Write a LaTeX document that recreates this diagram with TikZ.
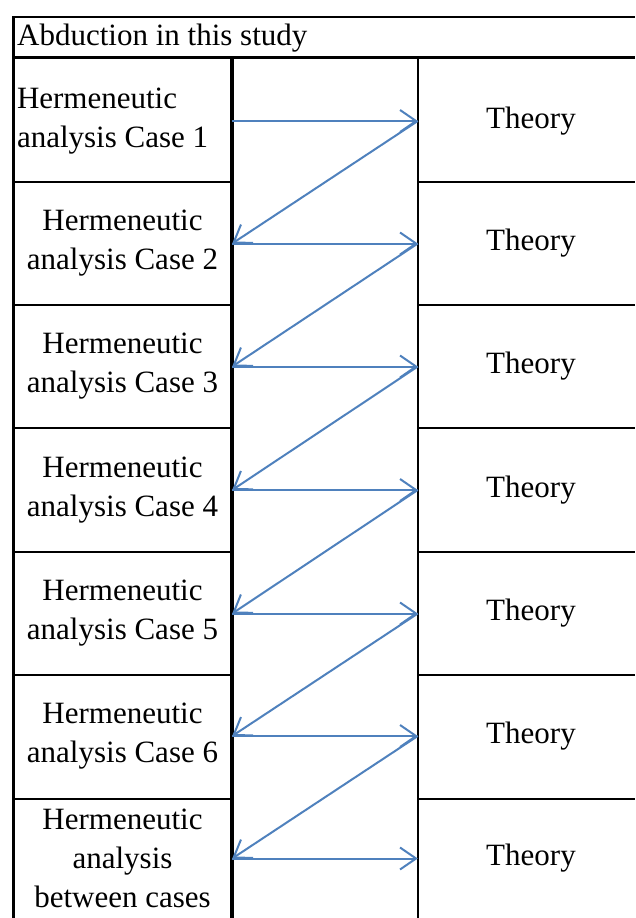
\documentclass[tikz,border=0pt]{standalone}
\usepackage{fontspec}
\setmainfont{Liberation Serif}
\usetikzlibrary{positioning, arrows.meta}
\definecolor{linkblue}{RGB}{79,129,189}

\begin{document}
\begin{tikzpicture}[x=1pt, y=-1pt, font=\rmfamily\fontsize{31}{39}\selectfont,
	casecell/.style={minimum width=219pt, minimum height=123pt, inner sep=0pt, align=flush center},
	theorycell/.style={minimum width=226pt, minimum height=123pt, inner sep=0pt},
	link/.style={linkblue, line width=2pt, -{Straight Barb[length=16pt, width=22pt]}}]
		\useasboundingbox (0,0) rectangle (635,918);

		% table rules
		\draw[line width=1.5pt] (13,17) -- (635,17);
		\draw[line width=3pt] (13,57) -- (635,57);
		\draw[line width=3pt] (13,16) -- (13,918);
		\draw[line width=3.5pt] (232,57) -- (232,918);
		\draw[line width=1.5pt] (418,57) -- (418,918);
		\draw[line width=2.5pt] (13,182)--(232,182) (418,182)--(635,182);
		\draw[line width=2.5pt] (13,305)--(232,305) (418,305)--(635,305);
		\draw[line width=2.5pt] (13,428)--(232,428) (418,428)--(635,428);
		\draw[line width=2.5pt] (13,552)--(232,552) (418,552)--(635,552);
		\draw[line width=2.5pt] (13,675)--(232,675) (418,675)--(635,675);
		\draw[line width=2.5pt] (13,799)--(232,799) (418,799)--(635,799);

		\node[anchor=west, inner sep=0pt] (title) at (17,38) {Abduction in this study};

		\node[casecell, text width=211pt, inner xsep=4pt, align=flush left] (case1) at (122.5,121) {Hermeneutic\\analysis Case 1};
		\node[casecell] (case2) at (122.5,243.5) {Hermeneutic\\analysis Case 2};
		\node[casecell] (case3) at (122.5,366.5) {Hermeneutic\\analysis Case 3};
		\node[casecell] (case4) at (122.5,490) {Hermeneutic\\analysis Case 4};
		\node[casecell] (case5) at (122.5,613.5) {Hermeneutic\\analysis Case 5};
		\node[casecell] (case6) at (122.5,736) {Hermeneutic\\analysis Case 6};
		\node[casecell] (case7) at (122.5,858.5) {Hermeneutic\\analysis\\between cases};

		\node[theorycell] (theory1) at (531,121) {Theory};
		\node[theorycell] (theory2) at (531,243.5) {Theory};
		\node[theorycell] (theory3) at (531,366.5) {Theory};
		\node[theorycell] (theory4) at (531,490) {Theory};
		\node[theorycell] (theory5) at (531,613.5) {Theory};
		\node[theorycell] (theory6) at (531,736) {Theory};
		\node[theorycell] (theory7) at (531,858.5) {Theory};

		% abductive moves
		\draw[link] (case1.east) -- (theory1.west);
		\draw[link] (theory1.west) -- (case2.east);
		\draw[link] (case2.east) -- (theory2.west);
		\draw[link] (theory2.west) -- (case3.east);
		\draw[link] (case3.east) -- (theory3.west);
		\draw[link] (theory3.west) -- (case4.east);
		\draw[link] (case4.east) -- (theory4.west);
		\draw[link] (theory4.west) -- (case5.east);
		\draw[link] (case5.east) -- (theory5.west);
		\draw[link] (theory5.west) -- (case6.east);
		\draw[link] (case6.east) -- (theory6.west);
		\draw[link] (theory6.west) -- (case7.east);
		\draw[link] (case7.east) -- (theory7.west);

	\end{tikzpicture}
\end{document}
